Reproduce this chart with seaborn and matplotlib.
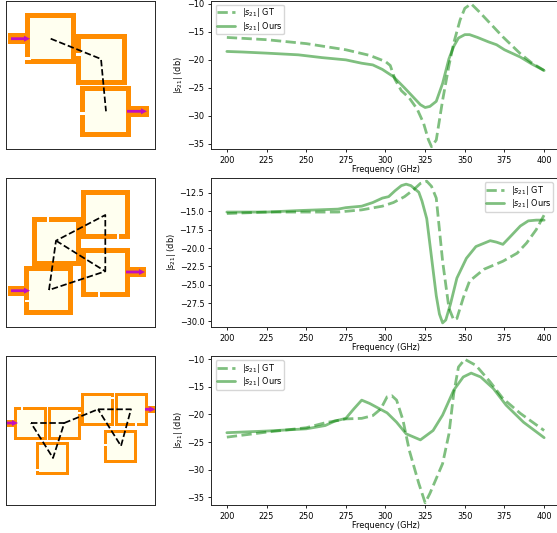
import numpy as np
import pandas as pd
import matplotlib
matplotlib.use("Agg")
import matplotlib.pyplot as plt
from matplotlib.patches import Rectangle, FancyArrow
import seaborn as sns

W, H = 557, 533

# frequency (GHz) / s21 (db)
f1_gt = [200,225,250,275,290,300,303,306,310,315,320,324,327,329,332,336,340,343,347,350,354,359,366,374,385,392,400]
s1_gt = [-16,-16.4,-17.1,-18.2,-19.2,-20.3,-21,-23.5,-25.5,-26.8,-28.8,-31.3,-34.2,-35.5,-34.3,-27.2,-21,-17,-12.9,-10.8,-10,-11.4,-13.5,-15.9,-18.9,-20.5,-21.9]
f1_our = [200,210,225,245,260,275,285,292,298,305,312,318,322,325,328,332,336,340,343,346,350,353,358,365,370,375,385,392,400]
s1_our = [-18.5,-18.6,-18.8,-19.1,-19.6,-20,-20.6,-20.9,-21.7,-23,-25,-26.8,-28,-28.5,-28.3,-27.4,-24.2,-19.8,-17.6,-16.1,-15.5,-15.5,-16,-16.8,-17.3,-18.2,-19.5,-20.7,-21.9]

f2_gt = [200,225,250,270,285,298,305,312,318,322,326,329,332,336,340,343,345,349,353,362,374,383,389,395,400]
s2_gt = [-15.3,-15.1,-15.1,-15.1,-14.8,-14.3,-13.8,-13,-12,-11.2,-10.9,-11.6,-13.2,-21.8,-28.2,-29.8,-29.6,-26.8,-24.5,-22.9,-21.8,-20.7,-19.3,-17.5,-15.5]
f2_our = [200,225,245,270,275,285,292,298,302,306,310,313,316,321,323,326,328,330,332,334,336,338,341,345,351,357,366,370,374,378,385,390,395,400]
s2_our = [-15.1,-15.1,-14.9,-14.7,-14.5,-14.3,-13.8,-13.2,-13,-12.2,-11.5,-11.3,-11.5,-12.4,-13.6,-16,-19.5,-23,-26.5,-29,-30.2,-29.8,-27.6,-24.1,-21.4,-19.8,-19,-19.2,-19.5,-18.6,-17,-16.3,-16.2,-16.2]

f3_gt = [200,225,250,262,275,285,292,297,301,304,307,311,315,321,325,328,332,336,340,343,346,350,357,366,374,385,400]
s3_gt = [-24.1,-23.2,-22.4,-21.5,-20.8,-20.7,-20.2,-19,-16.8,-16.6,-17.4,-21,-26.5,-32.5,-36,-34.3,-31.6,-28.9,-23.5,-16.2,-11.4,-10,-11.1,-14.1,-17.1,-19.8,-22.9]
f3_our = [200,225,250,262,268,275,280,285,290,301,307,313,322,330,336,343,349,354,360,368,376,387,400]
s3_our = [-23.3,-23,-22.6,-22,-21.2,-20.7,-19,-17.4,-18,-19.7,-21.4,-23.5,-24.6,-22.9,-20.1,-15.6,-13.2,-12.5,-13.2,-15.3,-18.3,-21.4,-24.2]

xticks = [200,225,250,275,300,325,350,375,400]
yticks1 = [-10,-15,-20,-25,-30,-35]
yticks2 = [-12.5,-15,-17.5,-20,-22.5,-25,-27.5,-30]
yticks3 = [-10,-15,-20,-25,-30,-35]

# layouts, in picture pixels: squares (x, y, size), ports (x, y, w, h), arrows (x0, y, x1),
# gaps in the metal (x, y, w, h), dashed paths
sq1 = [(25,13,51),(76,34,51),(80,86,51)]
port1 = [(8,33,17,11),(127,106,22,11)]
arrow1 = [(11,38.7,30),(127,111.3,147)]
gap1 = [(25,56.7,6,3),(76,53,5,3),(80,112,5,3)]
path1 = [[(50.7,38.7),(101,59),(106,111.3)]]
th1 = 5

sq2 = [(81,190,49),(32,217,49),(81,248,49),(24,266,49)]
port2 = [(8,286,16,10),(130,267,16,10)]
arrow2 = [(11,290.7,30),(126,272,145)]
gap2 = [(117,234,2,5),(47,217,2,5),(98,292,2,5),(25,300,4,2)]
path2 = [[(49,290),(56,240.7),(105.3,215),(105.3,271.3),(49,290)],[(56,240.7),(105.3,271.3)]]
th2 = 5

sq3 = [(14,407,33),(48,407,33),(36,442,33),(81,393,33),(115,393,33),(104,430,33)]
port3 = [(7,420,7,7),(148,406,7.3,7)]
arrow3 = [(7,423,18),(145,409.3,155.3)]
gap3 = [(21,407,2,3),(78,412,3,2),(36,469,3,2),(111,397,3,2),(135,423,2,3),(104,444,3,2)]
path3 = [[(31,423),(64.3,423),(53,458),(31,423)],[(64.3,423),(98,409.3)],[(98,409.3),(131,409.3),(121,446),(98,409.3)]]
th3 = 3

layouts = [
    (sq1, port1, arrow1, gap1, path1, th1, 1, 149),
    (sq2, port2, arrow2, gap2, path2, th2, 178, 327),
    (sq3, port3, arrow3, gap3, path3, th3, 356, 505),
]
curves = [
    (f1_gt, s1_gt, f1_our, s1_our, yticks1, (-35.9, -9.5), 1, 149, "upper left", (215.7, 4.7)),
    (f2_gt, s2_gt, f2_our, s2_our, yticks2, (-30.76, -10.46), 178, 327, "upper right", (553, 182)),
    (f3_gt, s3_gt, f3_our, s3_our, yticks3, (-36.4, -9.4), 356, 505, "upper left", (215.7, 360)),
]

sns.set_style("ticks")
plt.rcParams["font.size"] = 5.9
plt.rcParams["axes.linewidth"] = 0.7
plt.rcParams["xtick.major.width"] = 0.6
plt.rcParams["ytick.major.width"] = 0.6
plt.rcParams["xtick.major.size"] = 2.4
plt.rcParams["ytick.major.size"] = 2.4
plt.rcParams["xtick.major.pad"] = 2.4
plt.rcParams["ytick.major.pad"] = 2.4
plt.rcParams["xtick.color"] = "black"
plt.rcParams["ytick.color"] = "black"
plt.rcParams["axes.labelcolor"] = "black"
plt.rcParams["text.color"] = "black"

fig = plt.figure(figsize=(W / 100, H / 100), dpi=100)


def pixel_axes(x0, y0, x1, y1):
    return fig.add_axes([x0 / W, (H - y1) / H, (x1 - x0) / W, (y1 - y0) / H])


for squares, ports, arrows, gaps, paths, th, top, bottom in layouts:
    ax = pixel_axes(6.3, top, 155.3, bottom)
    ax.set_xlim(6.3, 155.3)
    ax.set_ylim(bottom, top)
    ax.set_xticks([])
    ax.set_yticks([])
    for x, y, w, h in ports:
        ax.add_patch(Rectangle((x, y), w, h, fc="darkorange", ec="none", zorder=1))
    for x, y, s in squares:
        ax.add_patch(Rectangle((x, y), s, s, fc="darkorange", ec="none", zorder=2))
        ax.add_patch(Rectangle((x + th, y + th), s - 2 * th, s - 2 * th, fc="ivory", ec="none", zorder=2))
    for x, y, w, h in gaps:
        ax.add_patch(Rectangle((x, y), w, h, fc="white", ec="none", zorder=3))
    for x0, y, x1 in arrows:
        ax.add_patch(FancyArrow(x0, y, x1 - x0, 0, width=2.8, head_width=6, head_length=6,
                                length_includes_head=True, fc="#c010c0", ec="none", zorder=4))
    for p in paths:
        p = np.array(p)
        ax.plot(p[:, 0], p[:, 1], color="black", ls="--", lw=1.25, zorder=5)

for f_gt, s_gt, f_our, s_our, yt, ylim, top, bottom, loc, corner in curves:
    ax = pixel_axes(211, top, 560, bottom)
    df_gt = pd.DataFrame({"freq": f_gt, "s21": s_gt})
    df_our = pd.DataFrame({"freq": f_our, "s21": s_our})
    sns.lineplot(data=df_gt, x="freq", y="s21", ax=ax, color="g", alpha=0.5, linestyle="--",
                 linewidth=2.0, label=r"$|s_{21}|$ GT")
    sns.lineplot(data=df_our, x="freq", y="s21", ax=ax, color="g", alpha=0.5, linewidth=2.0,
                 label=r"$|s_{21}|$ Ours")
    ax.set_xlim(190, 410)
    ax.set_ylim(*ylim)
    ax.set_xticks(xticks)
    ax.set_yticks(yt)
    ax.set_xlabel("Frequency (GHz)", labelpad=0.6)
    ax.set_ylabel(r"$|s_{21}|$ (db)", labelpad=1.5)
    ax.legend(loc=loc, bbox_to_anchor=((corner[0] - 211) / 349, (bottom - corner[1]) / (bottom - top)),
              borderaxespad=0, fontsize=5.9, frameon=True, framealpha=0.8, edgecolor="0.8",
              labelspacing=0.05, borderpad=0.2, handlelength=2.2)

fig.savefig("out.png", dpi=100)
